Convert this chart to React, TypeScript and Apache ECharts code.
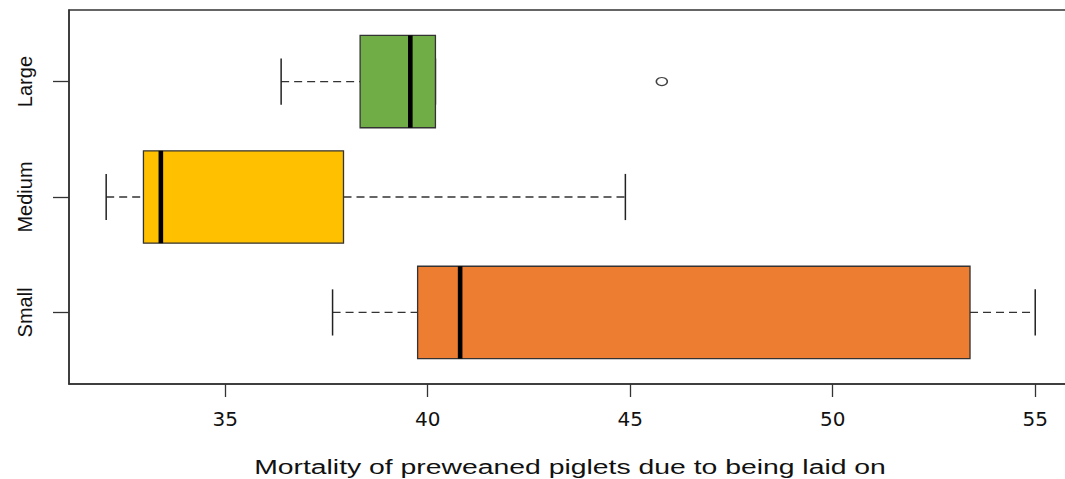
import React, { useEffect, useRef } from "react";
import * as echarts from "echarts";

const categories = ["Small", "Medium", "Large"];
const whiskerLow = [37.65, 32.06, 36.38];
const q1 = [39.75, 32.98, 38.33];
const median = [40.8, 33.41, 39.57];
const q3 = [53.39, 37.92, 40.19];
const whiskerHigh = [55.0, 44.88, 40.19];
const boxColors = ["#ED7D31", "#FFC000", "#70AD47"];
const outlierCategory = ["Large"];
const outlierValue = [45.78];
const xTicks = [35, 40, 45, 50, 55];
const xTitle = "Mortality of preweaned piglets due to being laid on";

export default function App() {
  const ref = useRef<HTMLDivElement>(null);
  useEffect(() => {
    if (!ref.current) return;
    const chart = echarts.init(ref.current, undefined, { renderer: "svg" });
    const boxData = categories.map((c, i) => [i + 1, whiskerLow[i], q1[i], median[i], q3[i], whiskerHigh[i], i]);
    const outData = outlierCategory.map((c, i) => [outlierValue[i], categories.indexOf(c) + 1]);
    const dark = "#333333";
    chart.setOption({
      animation: false,
      grid: {
        left: 69,
        right: 7.6,
        top: 10,
        bottom: 95,
        show: true,
        borderColor: dark,
        borderWidth: 1.5,
        backgroundColor: "transparent",
      },
      xAxis: {
        type: "value",
        min: 31.142,
        max: 55.918,
        splitLine: { show: false },
        axisLine: { show: true, lineStyle: { color: dark, width: 1.5 } },
        axisTick: { show: true, customValues: xTicks, length: 13, lineStyle: { color: dark, width: 1.3 } },
        axisLabel: {
          customValues: xTicks,
          margin: 25,
          fontFamily: "DejaVu Sans",
          fontSize: 20,
          color: "#111",
        },
      },
      yAxis: {
        type: "value",
        min: 0.38,
        max: 3.62,
        splitLine: { show: false },
        axisLine: { show: true, lineStyle: { color: dark, width: 1.5 } },
        axisTick: { show: true, customValues: [1, 2, 3], length: 16, lineStyle: { color: dark, width: 1.3 } },
        axisLabel: {
          customValues: [1, 2, 3],
          formatter: (v: number) => categories[Math.round(v) - 1] || "",
          rotate: 90,
          margin: 34,
          fontFamily: "Liberation Sans, Arial",
          fontSize: 20,
          color: "#111",
        },
      },
      graphic: [
        {
          type: "text",
          x: 570,
          y: 466,
          scaleX: 1.35,
          style: {
            text: xTitle,
            fontFamily: "Liberation Sans, Arial",
            fontSize: 21,
            fill: "#111",
            textAlign: "center",
            textVerticalAlign: "middle",
          },
        },
      ],
      series: [
        {
          type: "custom",
          data: boxData,
          encode: { x: [1, 2, 3, 4, 5], y: 0 },
          renderItem: (params: any, api: any) => {
            const y = api.value(0);
            const lo = api.value(1);
            const a = api.value(2);
            const m = api.value(3);
            const b = api.value(4);
            const hi = api.value(5);
            const idx = api.value(6);
            const h = api.size([0, 0.8])[1];
            const capH = api.size([0, 0.4])[1];
            const pLo = api.coord([lo, y]);
            const pA = api.coord([a, y]);
            const pM = api.coord([m, y]);
            const pB = api.coord([b, y]);
            const pHi = api.coord([hi, y]);
            const cy = pA[1];
            const dashStyle = { stroke: "#333", lineWidth: 1.3, lineDash: [8, 5] };
            const children: any[] = [];
            if (pA[0] - pLo[0] > 0.5) {
              children.push({ type: "line", shape: { x1: pLo[0], y1: cy, x2: pA[0], y2: cy }, style: dashStyle });
            }
            if (pHi[0] - pB[0] > 0.5) {
              children.push({ type: "line", shape: { x1: pB[0], y1: cy, x2: pHi[0], y2: cy }, style: dashStyle });
            }
            children.push({
              type: "line",
              shape: { x1: pLo[0], y1: cy - capH / 2, x2: pLo[0], y2: cy + capH / 2 },
              style: { stroke: "#222", lineWidth: 1.5 },
            });
            children.push({
              type: "line",
              shape: { x1: pHi[0], y1: cy - capH / 2, x2: pHi[0], y2: cy + capH / 2 },
              style: { stroke: "#222", lineWidth: 1.5 },
            });
            children.push({
              type: "rect",
              shape: { x: pA[0], y: cy - h / 2, width: pB[0] - pA[0], height: h },
              style: { fill: boxColors[idx], stroke: dark, lineWidth: 1.3 },
            });
            children.push({
              type: "line",
              shape: { x1: pM[0], y1: cy - h / 2, x2: pM[0], y2: cy + h / 2 },
              style: { stroke: "#000", lineWidth: 4.6 },
            });
            return { type: "group", children };
          },
          z: 2,
        },
        {
          type: "scatter",
          data: outData,
          symbol: "circle",
          symbolSize: [11, 8],
          itemStyle: { color: "rgba(0,0,0,0)", borderColor: "#111", borderWidth: 1.3 },
          z: 3,
        },
      ],
    });
    return () => chart.dispose();
  }, []);
  return (
    <div style={{ position: "fixed", left: 0, top: 0, width: 1065, height: 479, overflow: "hidden", background: "#fff" }}>
      <div ref={ref} style={{ width: 1080, height: 479 }} />
    </div>
  );
}
